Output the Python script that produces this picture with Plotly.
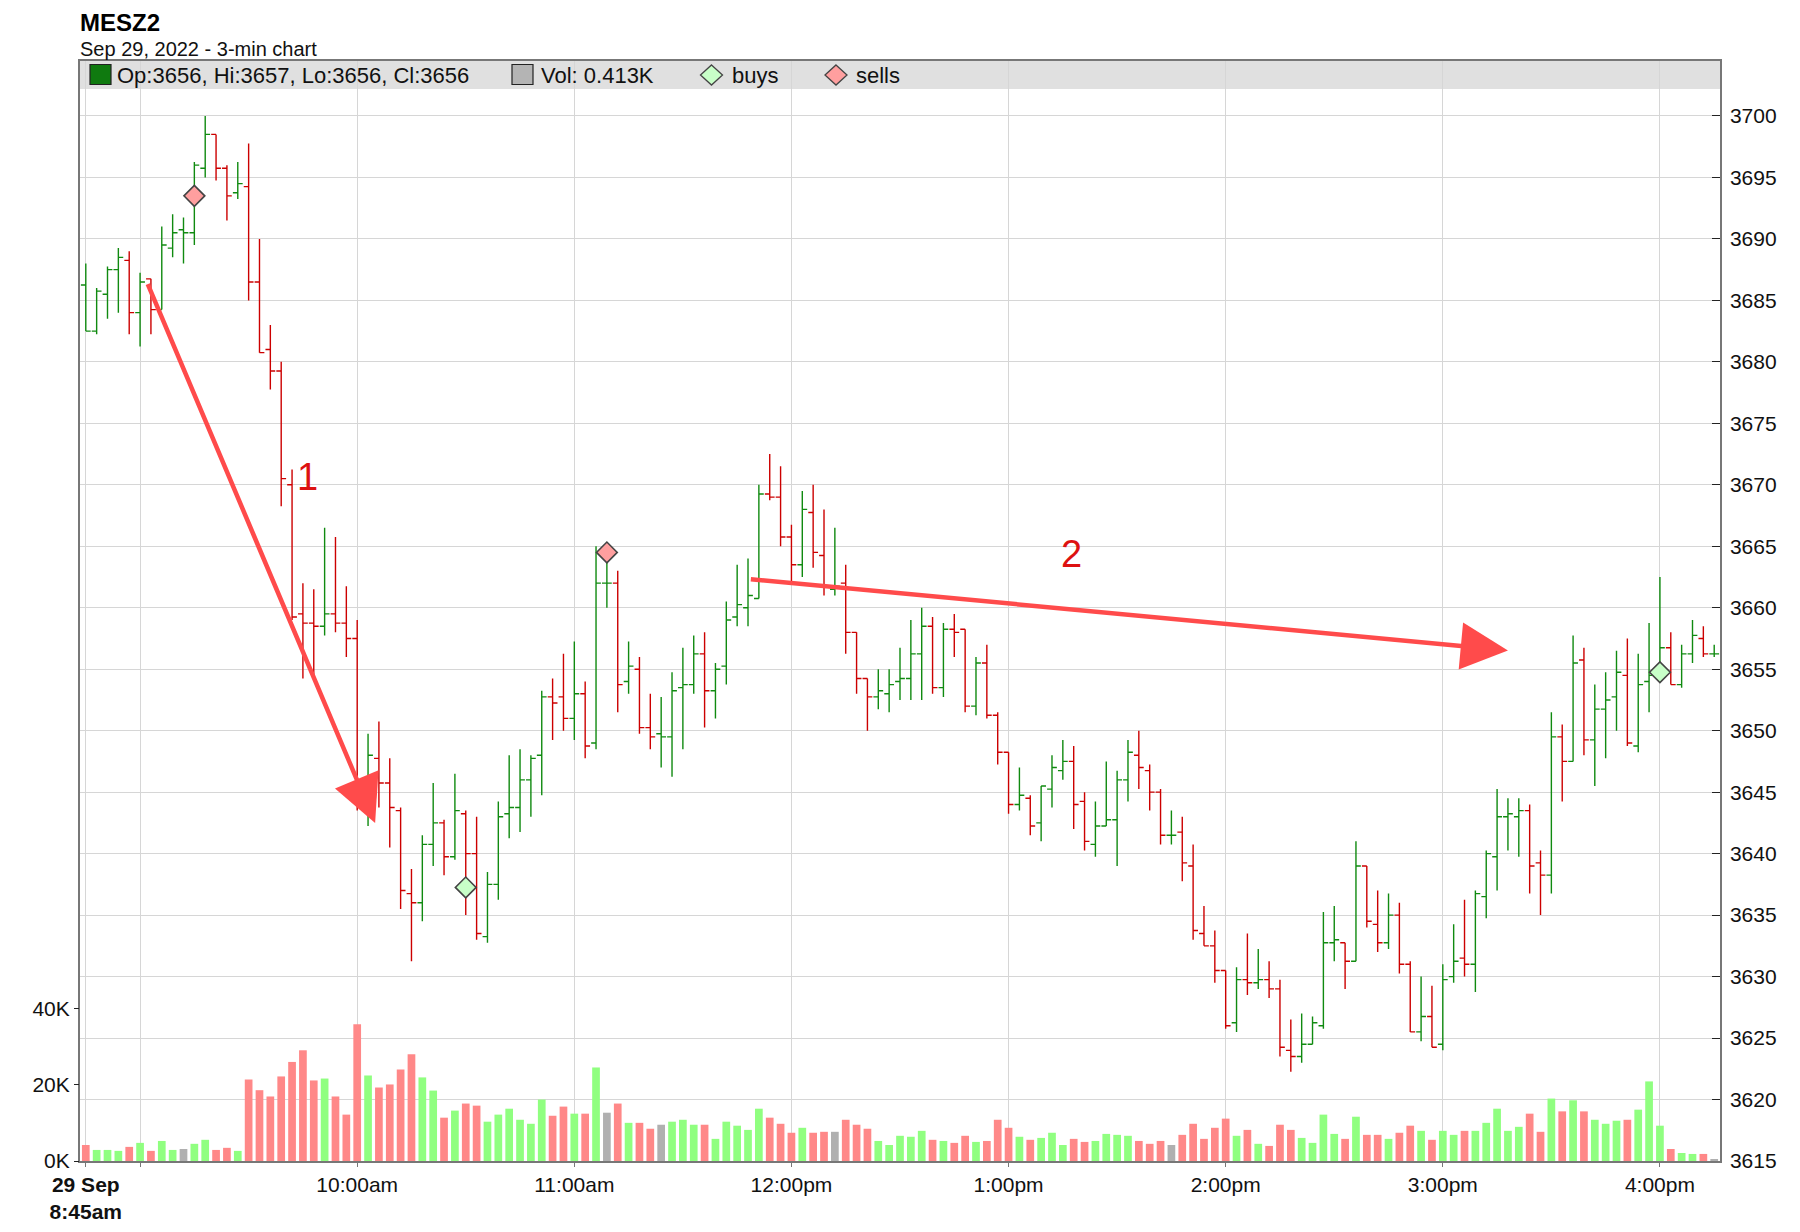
import pandas as pd
import plotly.graph_objects as go

# 3-minute bars for MESZ2, Sep 29 2022, starting 8:45am
FIRST_BAR = "2022-09-29 08:45"
BAR_MINUTES = 3

opens = [
    3686.25, 3682.5, 3685.5, 3687.5, 3688.25, 3684.0, 3686.75, 3684.25, 3689.25, 3690.75,
    3690.5, 3695.75, 3698.5, 3695.75, 3693.75, 3694.25, 3686.5, 3681.0, 3679.25, 3670.0,
    3659.5, 3658.75, 3658.5, 3659.5, 3658.75, 3657.5, 3645.0, 3647.75, 3645.75, 3643.5,
    3636.75, 3636.0, 3640.75, 3642.5, 3639.75, 3643.25, 3640.0, 3633.25, 3637.5, 3643.25,
    3643.75, 3646.0, 3648.0, 3652.75, 3652.75, 3651.0, 3653.0, 3649.0, 3662.0, 3662.0,
    3654.0, 3655.0, 3650.25, 3649.75, 3649.5, 3653.5, 3653.75, 3656.25, 3653.25, 3655.25,
    3659.25, 3660.0, 3660.75, 3669.25, 3669.0, 3665.75, 3663.5, 3667.75, 3664.25, 3661.5,
    3662.0, 3658.0, 3654.25, 3652.75, 3653.0, 3654.0, 3654.25, 3656.25, 3658.5, 3653.5,
    3658.25, 3658.25, 3652.0, 3655.5, 3651.25, 3648.25, 3644.0, 3644.5, 3642.5, 3645.25,
    3646.75, 3647.5, 3644.25, 3640.75, 3642.25, 3642.75, 3646.0, 3648.0, 3646.75, 3645.0,
    3641.5, 3641.75, 3639.0, 3633.5, 3632.5, 3630.5, 3626.25, 3629.75, 3629.5, 3629.75,
    3629.0, 3624.0, 3623.5, 3624.5, 3626.0, 3632.75, 3632.75, 3631.25, 3639.0, 3634.25,
    3632.75, 3635.0, 3631.0, 3625.5, 3626.75, 3624.5, 3630.0, 3631.5, 3631.0, 3636.5,
    3639.75, 3643.0, 3643.0, 3643.5, 3639.25, 3638.25, 3649.5, 3647.5, 3655.75, 3649.25,
    3651.75, 3652.75, 3654.5, 3648.75, 3654.0, 3654.5, 3656.75, 3653.75, 3656.25, 3657.5,
    3656.25,
]
highs = [
    3688.0, 3686.0, 3687.75, 3689.25, 3689.0, 3687.25, 3686.75, 3691.0, 3692.0, 3691.75,
    3696.25, 3700.0, 3698.5, 3696.0, 3696.25, 3697.75, 3690.0, 3683.0, 3680.0, 3671.25,
    3662.0, 3661.5, 3666.5, 3665.75, 3661.75, 3659.0, 3649.75, 3650.75, 3647.75, 3643.75,
    3638.75, 3641.5, 3645.75, 3642.75, 3646.5, 3643.5, 3643.0, 3638.5, 3644.25, 3648.0,
    3648.5, 3648.0, 3653.25, 3654.25, 3656.25, 3657.25, 3654.0, 3665.0, 3664.75, 3663.0,
    3657.25, 3656.0, 3653.0, 3652.75, 3654.75, 3656.75, 3657.75, 3658.0, 3655.5, 3660.5,
    3663.5, 3664.0, 3670.0, 3672.5, 3671.5, 3666.75, 3669.5, 3670.0, 3668.0, 3666.5,
    3663.5, 3658.0, 3654.25, 3655.0, 3655.0, 3656.75, 3659.0, 3660.0, 3659.25, 3658.75,
    3659.5, 3658.25, 3656.0, 3657.0, 3651.5, 3648.25, 3647.0, 3644.75, 3645.5, 3648.0,
    3649.25, 3648.75, 3645.0, 3644.25, 3647.5, 3646.75, 3649.25, 3650.0, 3647.25, 3645.25,
    3643.5, 3643.0, 3640.75, 3635.75, 3633.75, 3630.5, 3630.75, 3633.5, 3632.25, 3631.25,
    3629.75, 3626.5, 3627.0, 3626.75, 3635.25, 3635.75, 3632.75, 3641.0, 3639.0, 3637.0,
    3636.75, 3636.0, 3631.25, 3630.0, 3629.25, 3631.0, 3634.25, 3636.25, 3637.0, 3640.25,
    3645.25, 3644.5, 3644.5, 3644.0, 3640.25, 3651.5, 3650.5, 3657.75, 3656.75, 3653.75,
    3654.75, 3656.5, 3657.5, 3656.25, 3658.75, 3662.5, 3658.0, 3657.0, 3659.0, 3658.5,
    3657.0,
]
lows = [
    3682.5, 3682.25, 3683.5, 3684.0, 3682.25, 3681.25, 3682.25, 3684.25, 3688.5, 3688.0,
    3689.5, 3695.0, 3694.75, 3691.5, 3693.25, 3685.0, 3680.75, 3677.75, 3668.25, 3659.0,
    3654.25, 3654.5, 3657.75, 3658.0, 3656.0, 3643.5, 3642.25, 3643.75, 3640.5, 3635.5,
    3631.25, 3634.5, 3639.0, 3638.25, 3639.5, 3635.0, 3633.0, 3632.75, 3636.25, 3641.25,
    3641.75, 3643.0, 3644.75, 3649.25, 3650.0, 3649.25, 3647.75, 3648.5, 3660.0, 3651.5,
    3653.0, 3649.75, 3648.5, 3647.0, 3646.25, 3648.5, 3653.0, 3650.25, 3651.0, 3653.75,
    3658.5, 3658.5, 3660.75, 3668.75, 3665.0, 3662.0, 3662.5, 3663.25, 3661.0, 3661.0,
    3656.25, 3653.0, 3650.0, 3651.75, 3651.5, 3652.5, 3652.5, 3652.5, 3653.0, 3652.75,
    3656.0, 3651.5, 3651.25, 3651.0, 3647.25, 3643.25, 3643.5, 3641.5, 3641.0, 3643.75,
    3646.0, 3642.0, 3640.25, 3639.75, 3642.25, 3639.0, 3644.25, 3645.25, 3643.5, 3640.75,
    3640.75, 3637.75, 3633.0, 3632.5, 3629.5, 3625.75, 3625.5, 3628.5, 3629.0, 3628.25,
    3623.5, 3622.25, 3623.0, 3624.5, 3625.75, 3631.25, 3629.0, 3631.25, 3634.0, 3632.0,
    3632.25, 3630.25, 3625.5, 3624.75, 3624.25, 3624.0, 3629.5, 3630.0, 3628.75, 3634.75,
    3637.0, 3640.25, 3639.75, 3636.75, 3635.0, 3636.75, 3644.25, 3647.5, 3648.0, 3645.5,
    3647.75, 3650.0, 3648.75, 3648.25, 3651.5, 3654.0, 3653.75, 3653.5, 3655.5, 3656.0,
    3656.0,
]
closes = [
    3682.5, 3685.75, 3687.5, 3688.5, 3684.0, 3686.5, 3684.25, 3689.5, 3690.5, 3690.5,
    3696.0, 3698.5, 3695.75, 3693.5, 3694.5, 3686.5, 3680.75, 3679.25, 3670.5, 3659.25,
    3658.75, 3658.5, 3659.5, 3658.75, 3657.5, 3645.0, 3648.0, 3645.75, 3643.75, 3637.0,
    3636.0, 3640.75, 3642.5, 3639.75, 3643.5, 3640.0, 3633.5, 3637.5, 3643.0, 3643.75,
    3646.0, 3647.75, 3652.75, 3652.25, 3651.0, 3653.0, 3648.75, 3662.0, 3662.0, 3653.75,
    3655.25, 3650.25, 3649.5, 3649.5, 3653.25, 3653.75, 3656.25, 3653.25, 3655.0, 3659.0,
    3660.25, 3661.0, 3669.25, 3669.0, 3665.75, 3663.5, 3668.0, 3664.5, 3661.75, 3661.75,
    3658.0, 3654.25, 3652.75, 3653.25, 3653.75, 3654.25, 3656.25, 3658.5, 3653.5, 3658.25,
    3658.0, 3652.0, 3655.5, 3651.25, 3648.25, 3644.0, 3644.75, 3642.25, 3645.5, 3647.0,
    3647.5, 3644.0, 3641.0, 3642.25, 3642.75, 3646.0, 3648.25, 3647.0, 3645.0, 3641.5,
    3641.5, 3639.25, 3633.75, 3632.5, 3630.5, 3626.0, 3629.75, 3629.5, 3629.75, 3629.0,
    3624.25, 3623.5, 3624.5, 3626.25, 3632.75, 3633.0, 3631.25, 3639.0, 3634.5, 3632.75,
    3635.0, 3631.0, 3625.5, 3626.75, 3624.25, 3629.75, 3631.25, 3631.0, 3636.75, 3640.0,
    3643.0, 3643.25, 3643.5, 3639.0, 3638.25, 3649.5, 3647.5, 3655.5, 3649.25, 3651.75,
    3652.5, 3654.75, 3649.0, 3653.75, 3654.5, 3656.75, 3653.75, 3656.25, 3657.75, 3656.25,
    3656.25,
]
volumes = [
    4200, 2900, 2900, 2650, 3700, 4750, 2650, 5250, 2900, 3150,
    4500, 5550, 2900, 3450, 2650, 21350, 18550, 16900, 22150, 25950,
    29000, 21100, 21600, 16900, 12150, 35850, 22400, 19250, 20050, 24000,
    27950, 21900, 18450, 11350, 13200, 15050, 14500, 10300, 12150, 13700,
    10800, 9750, 16100, 11850, 14250, 12400, 12400, 24500, 12650, 15050,
    10000, 10000, 8450, 9500, 10300, 10800, 9500, 9500, 5800, 10300,
    9250, 8150, 13700, 11350, 9750, 7400, 8700, 7400, 7650, 7650,
    10800, 9500, 8450, 5250, 4200, 6600, 6350, 7900, 5550, 5250,
    4750, 6600, 5000, 5250, 10800, 8700, 6350, 5550, 6050, 7400,
    4200, 5800, 5000, 5250, 7100, 6850, 6600, 5250, 4500, 5250,
    4200, 6850, 9750, 5800, 8700, 11100, 6600, 8150, 4500, 3950,
    9500, 8150, 6050, 4750, 12150, 7100, 5800, 11600, 6850, 6850,
    5800, 7400, 9250, 7900, 5550, 7900, 6850, 7900, 7900, 10000,
    13700, 7900, 8950, 12400, 7650, 16350, 13000, 15900, 13000, 10800,
    9750, 10550, 10800, 13450, 20850, 9250, 3150, 2100, 1850, 1850,
    413,
]

# trade markers: (bar time, price)
buy_times = ["2022-09-29 10:30", "2022-09-29 16:00"]
buy_prices = [3637.25, 3654.75]
sell_times = ["2022-09-29 09:15", "2022-09-29 11:09"]
sell_prices = [3693.5, 3664.5]

price_ticks = [3615, 3620, 3625, 3630, 3635, 3640, 3645, 3650, 3655, 3660,
               3665, 3670, 3675, 3680, 3685, 3690, 3695, 3700]
vol_ticks = [0, 20000, 40000]
vol_tick_text = ["0K", "20K", "40K"]
time_ticks = ["2022-09-29 08:45", "2022-09-29 09:00", "2022-09-29 10:00",
              "2022-09-29 11:00", "2022-09-29 12:00", "2022-09-29 13:00",
              "2022-09-29 14:00", "2022-09-29 15:00", "2022-09-29 16:00"]
time_tick_text = ["<b>29 Sep</b><br><b>8:45am</b>", "", "10:00am", "11:00am",
                  "12:00pm", "1:00pm", "2:00pm", "3:00pm", "4:00pm"]

legend_text = "Op:3656, Hi:3657, Lo:3656, Cl:3656"
vol_text = "Vol: 0.413K"

FONT = "Liberation Sans, Arial, Helvetica, sans-serif"
UP, DOWN = "#108a10", "#cc0000"
VOL_UP, VOL_DOWN, VOL_FLAT = "#90ff80", "#ff8888", "#b0b0b0"
GRID = "#d6d6d6"
FRAME = "#777777"
ARROW = "#ff4b4b"

times = pd.date_range(FIRST_BAR, periods=len(closes), freq=f"{BAR_MINUTES}min")
df = pd.DataFrame({"t": times, "o": opens, "h": highs, "l": lows, "c": closes, "v": volumes})
df["prev"] = df["c"].shift(1)

# bar colour follows close vs previous close (first bar has no previous close)
df["up"] = df["prev"].isna() | (df["c"] >= df["prev"])
ref = df["prev"].fillna(df["o"])
df["vcol"] = [VOL_UP if c > r else VOL_DOWN if c < r else VOL_FLAT
              for c, r in zip(df["c"], ref)]

fig = go.Figure()

fig.add_trace(go.Bar(
    x=df["t"], y=df["v"], yaxis="y2",
    marker=dict(color=df["vcol"], line=dict(width=0)),
    hoverinfo="skip", showlegend=False,
))

for mask, col in ((df["up"], UP), (~df["up"], DOWN)):
    d = df[mask]
    fig.add_trace(go.Ohlc(
        x=d["t"], open=d["o"], high=d["h"], low=d["l"], close=d["c"],
        increasing=dict(line=dict(color=col, width=1.4)),
        decreasing=dict(line=dict(color=col, width=1.4)),
        tickwidth=0.45, showlegend=False, hoverinfo="skip",
    ))

fig.add_trace(go.Scatter(
    x=pd.to_datetime(sell_times), y=sell_prices, mode="markers",
    marker=dict(symbol="diamond", size=16, color="#ff9f9f",
                line=dict(color="#444444", width=1.6)),
    showlegend=False, hoverinfo="skip",
))
fig.add_trace(go.Scatter(
    x=pd.to_datetime(buy_times), y=buy_prices, mode="markers",
    marker=dict(symbol="diamond", size=16, color="#c8ffc8",
                line=dict(color="#444444", width=1.6)),
    showlegend=False, hoverinfo="skip",
))

# plot area is 1640 x 1100 px, top-left at (80, 61) on the page
def px(x):
    return (x - 80) / 1640


def py(y):
    return 1 - (y - 61) / 1100


shapes = [
    dict(type="rect", xref="paper", yref="paper", x0=0, x1=1, y0=py(89), y1=1,
         fillcolor="#e0e0e0", line=dict(width=0), layer="below"),
    dict(type="rect", xref="paper", yref="paper", x0=px(90), x1=px(111),
         y0=py(84.5), y1=py(64.5), fillcolor="#0f7a0f",
         line=dict(color="#222222", width=1.2)),
    dict(type="rect", xref="paper", yref="paper", x0=px(512), x1=px(533),
         y0=py(84.5), y1=py(64.5), fillcolor="#b4b4b4",
         line=dict(color="#222222", width=1.2)),
]
for cx, fill in ((711.5, "#c8ffc8"), (836, "#ff9f9f")):
    shapes.append(dict(
        type="path", xref="paper", yref="paper",
        path=(f"M {px(cx)},{py(65)} L {px(cx + 11)},{py(75)} "
              f"L {px(cx)},{py(85)} L {px(cx - 11)},{py(75)} Z"),
        fillcolor=fill, line=dict(color="#444444", width=1.3),
    ))

annotations = [
    dict(text="<b>MESZ2</b>", xref="paper", yref="paper", x=0, y=py(22.5),
         xanchor="left", yanchor="middle", xshift=-2, showarrow=False,
         font=dict(size=24, color="#000000", family=FONT)),
    dict(text="Sep 29, 2022 - 3-min chart", xref="paper", yref="paper", x=0,
         y=py(49), xanchor="left", yanchor="middle", xshift=-2, showarrow=False,
         font=dict(size=20, color="#111111", family=FONT)),
]
for x0, txt in ((115, legend_text), (538.5, vol_text), (729.5, "buys"), (853.5, "sells")):
    annotations.append(dict(
        text=txt, xref="paper", yref="paper", x=px(x0), y=py(75.5),
        xanchor="left", yanchor="middle", showarrow=False,
        font=dict(size=22, color="#111111", family=FONT)))

# trend arrows and their labels
for tail, head in (
    (("2022-09-29 09:01:57", 3686.45), ("2022-09-29 10:04:57", 3642.5)),
    (("2022-09-29 11:48:22", 3662.33), ("2022-09-29 15:18:00", 3656.53)),
):
    annotations.append(dict(
        x=head[0], y=head[1], ax=tail[0], ay=tail[1], axref="x", ayref="y",
        xref="x", yref="y", text="", showarrow=True, arrowhead=2,
        arrowwidth=4.5, arrowsize=2.1, arrowcolor=ARROW, standoff=0,
    ))
for t, p, label in (("2022-09-29 09:46:20", 3670.65, "1"),
                    ("2022-09-29 13:17:19", 3664.4, "2")):
    annotations.append(dict(
        x=t, y=p, xref="x", yref="y", text=label, showarrow=False,
        font=dict(size=38, color="#dd1111", family=FONT)))

# the page body adds an 8px offset, so the figure is shrunk to keep the plot area in place
fig.update_layout(
    width=1784, height=1216,
    margin=dict(l=72, r=72, t=53, b=63, autoexpand=False),
    paper_bgcolor="white", plot_bgcolor="white",
    font=dict(family=FONT, size=21, color="#111111"),
    showlegend=False,
    bargap=0.29,
    xaxis=dict(
        type="date", range=["2022-09-29 08:43:24", "2022-09-29 16:16:36"],
        tickmode="array", tickvals=time_ticks, ticktext=time_tick_text,
        showgrid=True, gridcolor=GRID, gridwidth=1,
        ticks="outside", ticklen=4, tickcolor=FRAME,
        showline=True, linecolor=FRAME, linewidth=1.5, mirror=True,
        rangeslider=dict(visible=False), tickfont=dict(size=21),
        fixedrange=True, automargin=False,
    ),
    yaxis=dict(
        side="right", range=[3615, 3704.47],
        tickmode="array", tickvals=price_ticks,
        showgrid=True, gridcolor=GRID, gridwidth=1, zeroline=False,
        ticks="inside", ticklen=8, tickcolor="#222222",
        showline=True, linecolor=FRAME, linewidth=1.5, mirror=True,
        tickfont=dict(size=21), ticklabelstandoff=4, automargin=False,
    ),
    yaxis2=dict(
        overlaying="y", side="left", range=[0, 288150],
        tickmode="array", tickvals=vol_ticks, ticktext=vol_tick_text,
        showgrid=False, zeroline=False,
        ticks="outside", ticklen=5, tickcolor="#222222",
        tickfont=dict(size=21), automargin=False,
    ),
    shapes=shapes,
    annotations=annotations,
)

fig.write_html("out.html")
